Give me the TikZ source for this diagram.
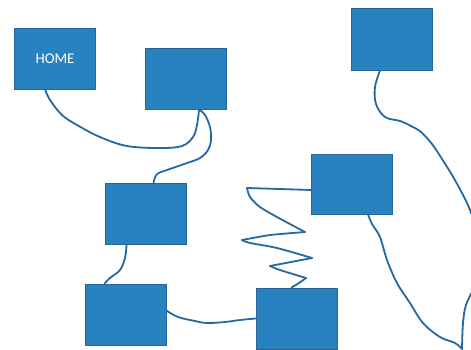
\documentclass[tikz,border=0pt]{standalone}
\usepackage{fontspec}
\setmainfont{Carlito}
\usetikzlibrary{calc}
\pgfdeclarelayer{bg}
\pgfsetlayers{bg,main}
\definecolor{boxfill}{RGB}{41,130,192}
\definecolor{boxedge}{RGB}{40,100,150}
\definecolor{wirecol}{RGB}{38,104,160}
\tikzset{
  box/.style={draw=boxedge, line width=0.9pt, fill=boxfill, minimum width=81pt, minimum height=61pt, inner sep=0pt, text=white, font=\fontsize{14.8}{16}\selectfont},
  wire/.style={draw=wirecol, line width=1.8pt, line cap=round, line join=round}
}
\begin{document}
\begin{tikzpicture}[x=1pt,y=-1pt]
\useasboundingbox (0,0) rectangle (471,349);
\clip (0,0) rectangle (471,349);
% boxes
\node[box] (home) at (55,58.5) {HOME};
\node[box] (b2) at (186,78.5) {};
\node[box, minimum height=62pt] (tr) at (392,39) {};
\node[box, minimum height=60pt] (mr) at (352,184) {};
\node[box] (b3) at (145.5,213.5) {};
\node[box] (b4) at (125.5,314.5) {};
\node[box] (b5) at (296.5,318.5) {};
\coordinate (meet) at (462,349);
\begin{pgfonlayer}{bg}
\fill[white] (0,0) rectangle (471,349);
% HOME -> box2
\draw[wire] plot[smooth, tension=0.6] coordinates {
  ($(home.south west)+(31,0)$) (50,100) (62,115) (77,125) (100,137) (127,146) (160,148) (182,146) (193,137) (197,125) ($(b2.south west)+(54,0)$)};
% box2 -> b3
\draw[wire] plot[smooth, tension=0.6] coordinates {
  ($(b2.south west)+(54,0)$) (205,115) (210,127) (211,140) (208,150) (200,158) (187,163) (167,170) (157,174) ($(b3.north west)+(49,0)$)};
% b3 -> b4
\draw[wire] plot[smooth, tension=0.6] coordinates {
  ($(b3.south west)+(22,0)$) (125,258) (120,270) (110,278) ($(b4.north west)+(20,0)$)};
% b4 -> b5
\draw[wire] plot[smooth, tension=0.6] coordinates {
  ($(b4.east)+(0,-4)$) (178,317) (195,321) (207,323) (225,322) (240,320) (b5.west)};
% mr -> b5 zigzag
\draw[wire] plot[smooth, tension=0.25] coordinates {
  ($(mr.west)+(0,6)$) (280,189) (247,188)};
\draw[wire] plot[smooth, tension=0.5] coordinates {
  (247,188) (250,197) (260,207) (277,217) (305,232)};
\draw[wire] plot[smooth, tension=0.3] coordinates {
  (305,232) (270,235) (242,240)};
\draw[wire] plot[smooth, tension=0.5] coordinates {
  (242,240) (250,243) (277,248) (312,258)};
\draw[wire] (312,258) -- (270,266);
\draw[wire] plot[smooth, tension=0.5] coordinates {
  (270,266) (280,270) (306,278)};
\draw[wire] plot[smooth, tension=0.4] coordinates {
  (306,278) (299,283) ($(b5.north west)+(36,0)$)};
% mr -> meet
\draw[wire] plot[smooth, tension=0.6] coordinates {
  ($(mr.south west)+(57,0)$) (372,224) (380,237) (387,260) (397,283) (410,303) (423,323) (440,337) (455,343) (meet)};
% tr -> meet
\draw[wire] plot[smooth, tension=0.6] coordinates {
  ($(tr.south west)+(29,0)$) (375,87) (376,104) (385,117) (400,121) (411,126) (421,132) (432,144) (442,159) (452,175) (462,193) (470,210) (478,235) (479,265) (474,287) (466,305) (463,323) (meet)};
\end{pgfonlayer}
\end{tikzpicture}
\end{document}
